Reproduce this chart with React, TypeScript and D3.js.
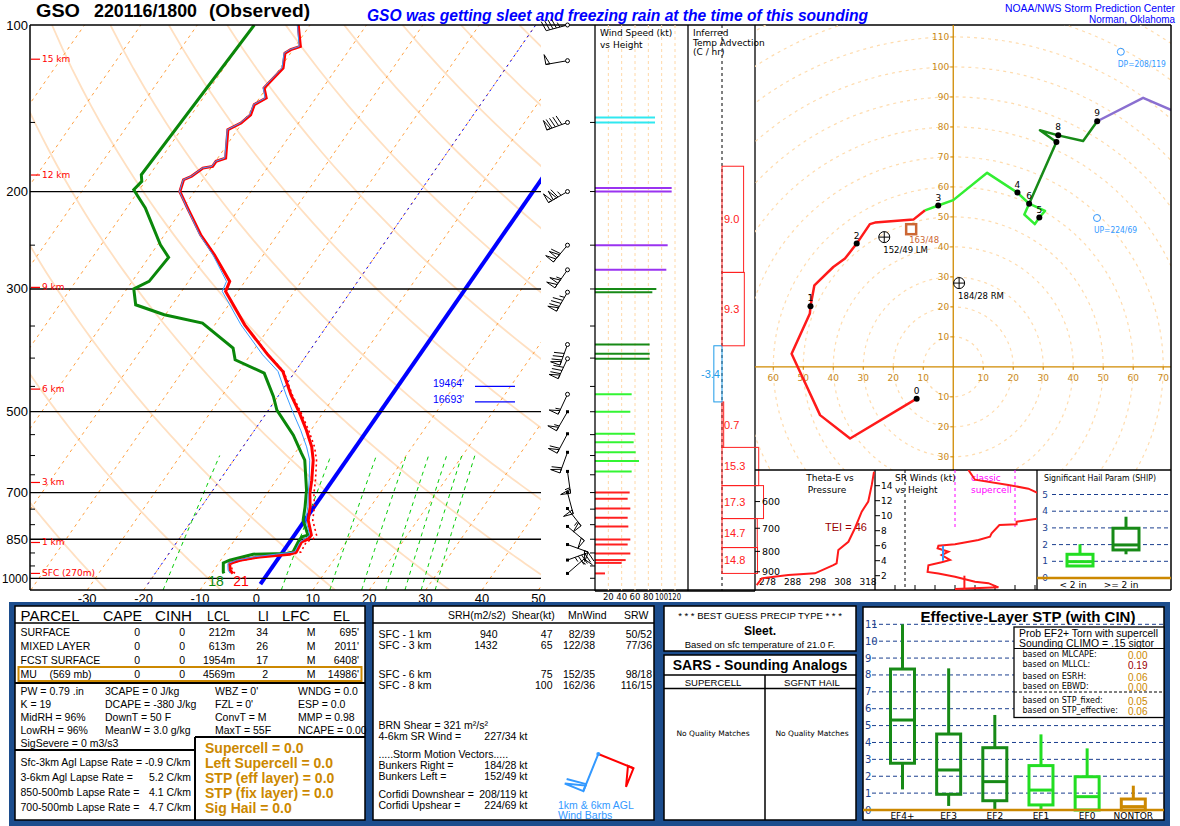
import React from 'react';
import * as d3 from 'd3';

const FONT = "'Liberation Sans', Arial, Helvetica, sans-serif";
const SMALL = "'DejaVu Sans', 'Liberation Sans', sans-serif";

// ---------------- DATA ----------------
// Observed temperature profile (mb, C)
const tempP = [100,109.3,110.8,112.4,119.6,130,135.5,139.3,145.3,150.4,154.6,174,176.4,180.1,181.4,187.7,190.4,200,214.2,239.4,260.2,290.7,303,348.3,394.6,422.8,466,503,539.9,578.8,611.7,664.8,702.7,742.9,785.3,835.8,850,859.6,896.2,904.7,914.9,927.6,940.5,966.9,980];
const tempC = [-62.1,-59.1,-60.4,-61.0,-59.5,-60.4,-58.8,-60.1,-59.5,-60.2,-61.7,-58.6,-59.9,-59.9,-61.4,-62.4,-63.4,-62.6,-59.2,-53.6,-48.7,-42.7,-42.2,-34.7,-26.9,-22.2,-17.9,-14.1,-10.8,-7.8,-5.9,-3.7,-2.4,-0.7,0.6,3.0,2.9,2.1,2.4,1.5,-3.5,-6.6,-8.0,-7.1,-6.2];
// Observed dewpoint profile (mb, C)
const dwptP = [100,186.5,191.7,198.5,214.2,249.6,263,290.7,299.8,320.4,334,345.8,383.7,402.8,425.8,469.2,496.7,551.2,594.9,611.7,693,742.9,785.3,835.8,841.7,859.4,895.9,902,904.6,927.5,938,973.8,980];
const dwptC = [-69.9,-71.5,-70.6,-71.0,-66.7,-59.5,-56.5,-57.0,-58.8,-56.5,-50.2,-42.4,-33.9,-32.1,-25.3,-20.8,-18.5,-12.5,-8.8,-7.4,-3.4,-1.6,-0.3,2.4,1.5,1.5,1.8,0.9,-5.0,-8.4,-9.2,-8.1,-7.8];

// Winds (mb, direction deg, speed kt)
const windP =   [980,938,927,902,869,851,806,777,748,718,700,641,614,592,568,548,500,465,401,393,378,304,300,277,250,200,197,150,147,116,100];
const windDir = [49,55,70,95,110,120,130,135,142,150,165,172,190,200,210,208,210,205,205,204,200,210,210,215,220,240,240,250,252,260,255];
const windSpd = [15,40,46,53,49,53,50,49,53,49,52,55,66,61,58,60,53,55,82,82,82,86,92,107,109,115,115,90,90,50,45];

// Skew-T reference lines
const pressureLevels = [200,300,500,700,850,1000];
const pressureLabels = [100,200,300,500,700,850,1000];
const minorPressures = [150,250,350,400,450,550,600,650,750,800,900,950];
const tempTicks = [-30,-20,-10,0,10,20,30,40,50];
const mixRatios = [1,5,9,13,17,21,25,29];
const heightP = [115.3,186.7,298,455.1,671.2,861.6,980];
const heightLbl = ['15 km','12 km','9 km','6 km','3 km','1 km','SFC (270m)'];
const levelHgtLbl = ["19464'","16693'"];
const levelHgtP = [450,480];

// Hodograph (u, v in kt) and layer index (0:0-3km,1:3-6,2:6-9,3:9-12)
const hodoU = [-12.2,-34.4,-44.4,-53.9,-47.8,-47.6,-46.3,-40,-36.1,-32.2,-27.8,-26.1,-13.3,-9.4,-5,0,11.3,21.4,25.3,30.6,28.7,27.2,23.7,25.3,34.4,28.9,35,43.3,48,63.3,72.8];
const hodoV = [-10.6,-23.9,-16.1,4.4,17.8,20.2,27.2,33.3,36.1,41.1,47.6,48.1,49.1,52.2,53.8,55.6,64.7,58.1,54.4,52,49.8,47.6,50.8,54.4,75,78.9,77.2,75.3,81.9,89.7,85.6];
const hodoLayer = [0,0,0,0,0,0,0,0,0,0,0,0,0,0,1,1,1,1,1,1,1,1,1,1,2,2,2,2,2,3,3];
const hodoMarkLbl = ['0','1','2','3','4','5','6','7','8','9'];
const hodoMarkIdx = [0,5,9,14,17,20,23,24,26,28];

// Storm motions (dir, kt)
const rmDir = 184, rmSpd = 28;
const lmDir = 152, lmSpd = 49;
const mwDir = 163, mwSpd = 48;
const dpDir = 208, dpSpd = 119;
const upDir = 224, upSpd = 69;

// Inferred temperature advection (100 mb layers)
const advBotP = [980,880,780,680,580,480,380,280];
const advTopP = [880,780,680,580,480,380,280,180];
const advVal = [14.8,14.7,17.3,15.3,0.7,-3.4,9.3,9.0];

// Theta-E vs pressure
const thetaP = [505,545,600,636,700,757,794,857,866,908,917,935,972];
const thetaE = [320.4,319.5,318.1,315.5,312.8,310.2,306.2,305.5,304.2,296.9,286.3,275.7,273.7];
const thetaTicks = [278,288,298,308,318];
const thetaPTicks = [600,700,800,900];

// Storm-relative winds vs height (km, kt)
const srH = [16.1,14.8,14.1,13.6,12.9,9.65,9.2,8.85,8.76,7.65,7.2,6.76,6.2,6.0,5.65,5.2,4.76,4.1,3.8,3.4,2.5,2.3,1.87,1.2,1.0,0.45,0.23];
const srS = [46.7,50,66.7,76.7,82.5,82.5,70.8,70.8,62.2,58.3,57.5,51.7,40,31.7,31.3,36.7,33.3,37.5,33.3,26.7,26.3,31.7,40,50,56.7,61.7,40];
const srMeanBot = [0,4];
const srMeanTop = [2,6];
const srMeanSpd = [44.7,34];
const srTicks = [2,4,6,8,10,12,14];

// SHIP box plots
const shipCats = ['< 2 in','>= 2 in'];
const shipLo = [0.72,1.42];
const shipQ1 = [0.72,1.68];
const shipMed = [0.98,1.98];
const shipQ3 = [1.42,2.98];
const shipHi = [2.02,3.67];

// Effective-layer STP box plots
const stpCats = ['EF4+','EF3','EF2','EF1','EF0','NONTOR'];
const stpLo = [1.22,0.24,0,0,0,0];
const stpQ1 = [2.77,0.93,0.55,0.3,0,0];
const stpMed = [5.33,2.37,1.68,1.18,0.79,0.2];
const stpQ3 = [8.35,4.5,3.69,2.63,1.97,0.65];
const stpHi = [11,8.39,5.63,4.48,3.65,1.44];

// Parcel table
const parcelNames = ['SURFACE','MIXED LAYER','FCST SURFACE','MU'];
const parcelCape = ['0','0','0','0'];
const parcelCinh = ['0','0','0','0'];
const parcelLcl = ['212m','613m','1954m','4569m'];
const parcelLi = ['34','26','17','2'];
const parcelLfc = ['M','M','M','M'];
const parcelEl = ["695'","2011'","6408'","14986'"];
const idxCol1 = ['PW = 0.79 .in','K = 19','MidRH = 96%','LowRH = 96%','SigSevere = 0 m3/s3'];
const idxCol2 = ['3CAPE = 0 J/kg','DCAPE = -380 J/kg','DownT = 50 F','MeanW = 3.0 g/kg'];
const idxCol3 = ["WBZ = 0'","FZL = 0'",'ConvT = M','MaxT = 55F'];
const idxCol4 = ['WNDG = 0.0','ESP = 0.0','MMP = 0.98','NCAPE = 0.00'];
const lapseLbl = ['Sfc-3km Agl Lapse Rate =','3-6km Agl Lapse Rate =','850-500mb Lapse Rate =','700-500mb Lapse Rate ='];
const lapseVal = ['-0.9 C/km','5.2 C/km','4.1 C/km','4.7 C/km'];
const orangeLines = ['Supercell = 0.0','Left Supercell = 0.0','STP (eff layer) = 0.0','STP (fix layer) = 0.0','Sig Hail = 0.0'];

// Kinematic table
const kinLayer = ['SFC - 1 km','SFC - 3 km','SFC - 6 km','SFC - 8 km'];
const kinSrh = ['940','1432','',''];
const kinShear = ['47','65','75','100'];
const kinMnWind = ['82/39','122/38','152/35','162/36'];
const kinSrw = ['50/52','77/36','98/18','116/15'];
const barb1kmDir = 112, barb1kmSpd = 52;
const barb6kmDir = 202, barb6kmSpd = 60;

const stpProbLbl = ['based on MLCAPE:','based on MLLCL:','based on ESRH:','based on EBWD:','based on STP_fixed:','based on STP_effective:'];
const stpProbVal = ['0.00','0.19','0.06','0.00','0.05','0.06'];

// ---------------- HELPERS ----------------
const esat = (t: number) => 6.112 * Math.exp(17.67 * t / (t + 243.5));
const mixr = (t: number, p: number) => { const e = esat(t); return 0.622 * e / (p - e); };
const tempFromMix = (w: number, p: number) => { const ww = w / 1000; const e = ww * p / (0.622 + ww); const l = Math.log(e / 6.112); return 243.5 * l / (17.67 - l); };
function wetbulb(t: number, td: number, p: number) {
  const w = mixr(td, p); let lo = td, hi = t;
  for (let i = 0; i < 40; i++) { const m = (lo + hi) / 2; const f = (t - m) * 1005 / 2.5e6 - (mixr(m, p) - w); if (f > 0) lo = m; else hi = m; }
  return (lo + hi) / 2;
}
function interpLog(ps: number[], vs: number[], p: number) {
  if (p <= ps[0]) return vs[0];
  for (let i = 0; i < ps.length - 1; i++) {
    if (p >= ps[i] && p <= ps[i + 1]) { const f = Math.log(p / ps[i]) / Math.log(ps[i + 1] / ps[i]); return vs[i] + f * (vs[i + 1] - vs[i]); }
  }
  return vs[vs.length - 1];
}
function barb(x0: number, y0: number, dir: number, spd: number, L = 22, fl = 10, gap = 3.5, fw = 4) {
  const r = dir * Math.PI / 180;
  const ux = Math.sin(r), uy = -Math.cos(r);
  const px = Math.cos(r), py = Math.sin(r);
  const tx = x0 + L * ux, ty = y0 + L * uy;
  let d = `M${x0},${y0}L${tx},${ty}`;
  let poly = '';
  let s = Math.round(spd / 5) * 5;
  let pos = 0;
  while (s >= 50) {
    const ax = tx - pos * ux, ay = ty - pos * uy;
    const cx = tx - (pos + fw) * ux, cy = ty - (pos + fw) * uy;
    poly += `M${ax},${ay}L${ax + fl * px},${ay + fl * py}L${cx},${cy}Z`;
    pos += fw + 1.5; s -= 50;
  }
  while (s >= 10) {
    const ax = tx - pos * ux, ay = ty - pos * uy;
    d += `M${ax},${ay}L${ax + fl * px + 2.5 * ux},${ay + fl * py + 2.5 * uy}`;
    pos += gap; s -= 10;
  }
  if (s >= 5) {
    if (pos === 0) pos = gap;
    const ax = tx - pos * ux, ay = ty - pos * uy;
    d += `M${ax},${ay}L${ax + fl / 2 * px + 1.25 * ux},${ay + fl / 2 * py + 1.25 * uy}`;
  }
  return { d, poly };
}
const uvOf = (dir: number, spd: number) => { const r = dir * Math.PI / 180; return [-spd * Math.sin(r), -spd * Math.cos(r)]; };

const Txt = ({ x, y, s = 10.5, a = 'start', c = '#000', w = 'normal', f = FONT, st = 'normal', tl, children }: any) => (
  <text x={x} y={y} fontSize={s} textAnchor={a} fill={c} fontWeight={w} fontStyle={st} fontFamily={f}
    dominantBaseline="central" textLength={tl} lengthAdjust={tl ? 'spacingAndGlyphs' : undefined}>{children}</text>
);

export default function App() {
  const SKEW = 0.694;
  const yP = d3.scaleLog().domain([1050, 100]).range([590, 25]);
  const xT0 = d3.scaleLinear().domain([-30, 50]).range([87.2, 538.4]);
  const sx = (t: number, p: number) => xT0(t) + SKEW * (590 - yP(p));
  const line = d3.line<[number, number]>();

  const isotherms = d3.range(-120, 60, 10).map(t => line([[sx(t, 1050), yP(1050)], [sx(t, 100), yP(100)]]));
  const presGrid = d3.range(1050, 95, -10);
  const dryAd = d3.range(-50, 250, 20).map(t0 => line(presGrid.map(p => [sx((t0 + 273.15) * Math.pow(p / 1000, 0.2857) - 273.15, p), yP(p)] as [number, number])));
  const mixLines = mixRatios.map(w => line(d3.range(1050, 595, -10).map(p => [sx(tempFromMix(w, p), p), yP(p)] as [number, number])));

  const tPath = line(tempP.map((p, i) => [sx(tempC[i], p), yP(p)] as [number, number]));
  const tdPath = line(dwptP.map((p, i) => [sx(dwptC[i], p), yP(p)] as [number, number]));
  const tdAtT = tempP.map((p, i) => Math.min(tempC[i], interpLog(dwptP, dwptC, p)));
  const tvPath = line(tempP.map((p, i) => { const w = mixr(tdAtT[i], p); const tv = (tempC[i] + 273.15) * (1 + 0.61 * w) - 273.15; return [sx(tv, p), yP(p)] as [number, number]; }));
  const twPath = line(tempP.map((p, i) => [sx(wetbulb(tempC[i], tdAtT[i], p), p), yP(p)] as [number, number]));

  const ws = d3.scaleLinear().domain([0, 120]).range([595, 675]);
  const spdColor = (p: number) => p > 672 ? '#ff2020' : p > 455 ? '#33f533' : p > 299 ? '#178a17' : p > 186 ? '#9a33f0' : '#30e8f0';
  const ax = d3.scaleLinear().domain([0, 10]).range([722, 746]);

  const barbIdx: number[] = [];
  let lastY = 1e9;
  windP.forEach((p, i) => { const y = yP(p); if (lastY - y >= 11) { barbIdx.push(i); lastY = y; } });

  const hx = d3.scaleLinear().domain([-66.1, 72.6]).range([755, 1171]);
  const hy = d3.scaleLinear().domain([-34.4, 114]).range([470, 25]);
  const hodoColors = ['#ff1a1a', '#33ee33', '#178a17', '#8a6fd0'];
  const hodoSegs = [0, 1, 2, 3].map(L => {
    const pts: [number, number][] = [];
    hodoU.forEach((u, i) => {
      if (hodoLayer[i] === L) {
        if (pts.length === 0 && i > 0) pts.push([hx(hodoU[i - 1]), hy(hodoV[i - 1])]);
        pts.push([hx(u), hy(hodoV[i])]);
      }
    });
    return line(pts);
  });
  const [rmU, rmV] = uvOf(rmDir, rmSpd);
  const [lmU, lmV] = uvOf(lmDir, lmSpd);
  const [mwU, mwV] = uvOf(mwDir, mwSpd);
  const [dpU, dpV] = uvOf(dpDir, dpSpd);
  const [upU, upV] = uvOf(upDir, upSpd);
  const ox = hx(0), oy = hy(0);

  const tx = d3.scaleLinear().domain([278, 318]).range([767.5, 868]);
  const ty = d3.scaleLog().domain([500, 1000]).range([470, 590]);
  const srx = d3.scaleLinear().domain([0, 81]).range([875, 1037]);
  const sry = d3.scaleLinear().domain([0, 16]).range([590.7, 470.7]);
  const shy = d3.scaleLinear().domain([0, 5]).range([578, 494.5]);
  const shx = d3.scalePoint().domain(shipCats).range([1080, 1126]);
  const shipCol = ['#22dd22', '#178a17'];
  const stpY = d3.scaleLinear().domain([0, 11]).range([810, 624.3]);
  const stpX = d3.scalePoint().domain(stpCats).range([902.5, 1133.3]);
  const stpCol = ['#178a17', '#178a17', '#178a17', '#22dd22', '#22dd22', '#cc8800'];

  const navy = '#1c4d8d';
  const orange = '#cc8800';
  const ringColor = '#ffdcae';

  const mini1 = barb(598.3, 754, barb1kmDir, barb1kmSpd, 38, 20, 6, 6);
  const mini6 = barb(598.3, 754, barb6kmDir, barb6kmSpd, 40, 20, 6, 6);

  return (
    <div style={{ position: 'absolute', left: 0, top: 0, width: 1180, height: 826, background: '#fff' }}>
      <svg width={1180} height={826} viewBox="0 0 1180 826" style={{ display: 'block' }}>
        <defs>
          <clipPath id="skewclip"><rect x={30} y={25} width={511} height={565} /></clipPath>
          <clipPath id="hodoclip"><rect x={755} y={25} width={416} height={445} /></clipPath>
          <clipPath id="srclip"><rect x={875} y={470} width={162} height={120} /></clipPath>
          <clipPath id="thclip"><rect x={755} y={470} width={120} height={120} /></clipPath>
        </defs>
        <rect x={0} y={0} width={1180} height={826} fill="#fff" />

        {/* Title */}
        <Txt x={36} y={11} s={17.5} w="bold" tl={44}>GSO</Txt>
        <Txt x={94} y={11} s={17.5} w="bold" tl={103}>220116/1800</Txt>
        <Txt x={209} y={11} s={17.5} w="bold" tl={101}>(Observed)</Txt>
        <Txt x={367} y={15} s={16} w="bold" st="italic" c="#0000ff" tl={501}>GSO was getting sleet and freezing rain at the time of this sounding</Txt>
        <Txt x={1005} y={8} s={10.5} c="#0000ff" tl={170}>NOAA/NWS Storm Prediction Center</Txt>
        <Txt x={1089} y={18.5} s={10.5} c="#0000ff" tl={86}>Norman, Oklahoma</Txt>

        {/* Skew-T background */}
        <g clipPath="url(#skewclip)">
          {dryAd.map((d, i) => <path key={'da' + i} d={d || ''} fill="none" stroke="#ffe0c2" strokeWidth={1.8} />)}
          {isotherms.map((d, i) => <path key={'it' + i} d={d || ''} fill="none" stroke="#ffa040" strokeWidth={1} strokeDasharray="3,4" />)}
          {mixLines.map((d, i) => <path key={'mr' + i} d={d || ''} fill="none" stroke="#00cc00" strokeWidth={1} strokeDasharray="4,4" />)}
          <path d={line([[sx(-20, 1025), yP(1025)], [sx(-20, 100), yP(100)]]) || ''} stroke="#0000ff" strokeWidth={1} strokeDasharray="2,4" fill="none" />
          <path d={line([[sx(0, 1025), yP(1025)], [sx(0, 100), yP(100)]]) || ''} stroke="#0000ff" strokeWidth={4} fill="none" />
          {pressureLevels.map(p => <line key={'pl' + p} x1={30} x2={541} y1={yP(p)} y2={yP(p)} stroke="#000" strokeWidth={1.3} />)}
          <path d={tvPath || ''} fill="none" stroke="#ff0000" strokeWidth={1.6} strokeDasharray="2,3" />
          <path d={tdPath || ''} fill="none" stroke="#0a870a" strokeWidth={3} />
          <path d={tPath || ''} fill="none" stroke="#ff0000" strokeWidth={3} />
          <path d={twPath || ''} fill="none" stroke="#3a9cff" strokeWidth={1} />
        </g>
        <line x1={30} x2={30} y1={25} y2={590} stroke="#000" strokeWidth={1.5} />
        <line x1={30} x2={1171} y1={25} y2={25} stroke="#000" strokeWidth={1.5} />
        <line x1={30} x2={755} y1={590} y2={590} stroke="#000" strokeWidth={1.5} />
        {minorPressures.map(p => <line key={'mp' + p} x1={30} x2={35} y1={yP(p)} y2={yP(p)} stroke="#000" strokeWidth={1} />)}
        {pressureLabels.map(p => <Txt key={'pll' + p} x={28} y={yP(p)} s={13} a="end" tl={p >= 1000 ? 26 : undefined}>{p}</Txt>)}
        {tempTicks.map(t => <Txt key={'tt' + t} x={xT0(t)} y={598} s={13} a="middle">{t}</Txt>)}
        {heightP.map((p, i) => (
          <g key={'hg' + i}>
            <line x1={31} x2={40} y1={yP(p)} y2={yP(p)} stroke="#ff0000" strokeWidth={1.2} />
            <Txt x={42} y={yP(p)} s={9} c="#ff0000" f={SMALL}>{heightLbl[i]}</Txt>
          </g>
        ))}
        {levelHgtP.map((p, i) => (
          <g key={'lh' + i}>
            <Txt x={433} y={yP(p) - 3} s={11} c="#0000ff" tl={31}>{levelHgtLbl[i]}</Txt>
            <line x1={475} x2={515} y1={yP(p)} y2={yP(p)} stroke="#0000ff" strokeWidth={1.3} />
          </g>
        ))}
        <Txt x={216} y={581} s={14} c="#0a870a" a="middle">18</Txt>
        <Txt x={241} y={581} s={14} c="#ff0000" a="middle">21</Txt>

        {/* Wind barbs */}
        {barbIdx.map(i => {
          const b = barb(567.5, yP(windP[i]), windDir[i], windSpd[i]);
          return (
            <g key={'wb' + i}>
              <path d={b.d} stroke="#000" strokeWidth={1} fill="none" />
              {b.poly && <path d={b.poly} stroke="#000" strokeWidth={1} fill="none" />}
              {windP[i] > 480
                ? <rect x={566} y={yP(windP[i]) - 1.5} width={3} height={3} fill="#000" />
                : <circle cx={567.5} cy={yP(windP[i])} r={2} fill="#fff" stroke="#000" strokeWidth={1} />}
            </g>
          );
        })}

        {/* Wind speed panel */}
        {[20, 40, 60, 80, 100, 120].map(k => <line key={'wsg' + k} x1={ws(k)} x2={ws(k)} y1={25} y2={591} stroke="#ffd8a8" strokeWidth={1} strokeDasharray="3,3" />)}
        {windP.map((p, i) => p >= 140 ? <line key={'wsb' + i} x1={595} x2={ws(windSpd[i])} y1={yP(p)} y2={yP(p)} stroke={spdColor(p)} strokeWidth={2} /> : null)}
        {d3.range(150, 1001, 50).map(p => <line key={'wst' + p} x1={590} x2={595} y1={yP(p)} y2={yP(p)} stroke="#000" strokeWidth={1} />)}
        <line x1={595} x2={595} y1={25} y2={591} stroke="#000" strokeWidth={1.3} />
        <line x1={688} x2={688} y1={25} y2={591} stroke="#000" strokeWidth={1.3} />
        <line x1={755} x2={755} y1={25} y2={591} stroke="#000" strokeWidth={1.3} />
        <line x1={595} x2={755} y1={591} y2={591} stroke="#000" strokeWidth={1.3} />
        <Txt x={600} y={33} s={9} f={SMALL}>Wind Speed (kt)</Txt>
        <Txt x={600} y={45} s={9} f={SMALL}>vs Height</Txt>
        {[20, 40, 60, 80].map(k => <Txt key={'wsl' + k} x={ws(k)} y={597} s={8.5} a="middle" f={SMALL}>{k}</Txt>)}
        <Txt x={668} y={597} s={8.5} a="middle" f={SMALL} tl={26}>100120</Txt>

        {/* Temp advection */}
        <line x1={722} x2={722} y1={25} y2={591} stroke="#000" strokeWidth={1} strokeDasharray="3,3" />
        <Txt x={693} y={33} s={9} f={SMALL}>Inferred</Txt>
        <Txt x={693} y={42.5} s={9} f={SMALL}>Temp Advection</Txt>
        <Txt x={693} y={52} s={9} f={SMALL}>(C / hr)</Txt>
        {advVal.map((v, i) => {
          const y1 = yP(advTopP[i]), y2 = yP(advBotP[i]);
          const x1 = ax(Math.min(0, v)), x2 = ax(Math.max(0, v));
          const col = v >= 0 ? '#ff2020' : '#1e9be8';
          return (
            <g key={'adv' + i}>
              <rect x={x1} y={y1} width={Math.max(x2 - x1, 1)} height={y2 - y1} fill="none" stroke={col} strokeWidth={1} />
              {v >= 0
                ? <Txt x={724} y={(y1 + y2) / 2} s={11} c={col}>{v.toFixed(1)}</Txt>
                : <Txt x={720} y={(y1 + y2) / 2} s={11} c={col} a="end">{v.toFixed(1)}</Txt>}
            </g>
          );
        })}

        {/* Hodograph */}
        <g clipPath="url(#hodoclip)">
          {d3.range(10, 150, 10).map(r => <circle key={'hr' + r} cx={ox} cy={oy} r={hx(r) - ox} fill="none" stroke={ringColor} strokeWidth={1.2} strokeDasharray="3,4" />)}
          <line x1={ox} x2={ox} y1={25} y2={470} stroke="#d08a00" strokeWidth={1.3} />
          <line x1={755} x2={1171} y1={oy} y2={oy} stroke="#d08a00" strokeWidth={1.3} />
          {d3.range(-60, 80, 10).filter(k => k !== 0).map(k => (
            <g key={'hux' + k}>
              <line x1={hx(k)} x2={hx(k)} y1={oy} y2={oy + 3} stroke="#d08a00" />
              <Txt x={hx(k)} y={oy + 11} s={9} a="middle" c="#c88a1a" f={SMALL}>{Math.abs(k)}</Txt>
            </g>
          ))}
          {d3.range(-30, 120, 10).filter(k => k !== 0).map(k => (
            <g key={'hvy' + k}>
              <line x1={ox - 3} x2={ox} y1={hy(k)} y2={hy(k)} stroke="#d08a00" />
              <Txt x={ox - 4} y={hy(k)} s={9} a="end" c="#c88a1a" f={SMALL}>{Math.abs(k)}</Txt>
            </g>
          ))}
          {hodoSegs.map((d, i) => <path key={'hs' + i} d={d || ''} fill="none" stroke={hodoColors[i]} strokeWidth={2.5} strokeLinejoin="round" />)}
          {hodoMarkIdx.map((idx, i) => (
            <g key={'hm' + i}>
              <circle cx={hx(hodoU[idx])} cy={hy(hodoV[idx])} r={3} fill="#000" />
              {hodoMarkLbl[i] !== '7' && <Txt x={hx(hodoU[idx])} y={hy(hodoV[idx]) - 8} s={9} a="middle" f={SMALL}>{hodoMarkLbl[i]}</Txt>}
            </g>
          ))}
          <rect x={hx(mwU) - 5} y={hy(mwV) - 5} width={10} height={10} fill="#fff" stroke="#cc6633" strokeWidth={2.5} />
          <Txt x={hx(mwU) - 2} y={hy(mwV) + 11} s={8.5} c="#cc6633" f={SMALL}>{`${mwDir}/${mwSpd}`}</Txt>
          {[[lmU, lmV, `${lmDir}/${lmSpd} LM`], [rmU, rmV, `${rmDir}/${rmSpd} RM`]].map((m: any, i) => (
            <g key={'sm' + i}>
              <circle cx={hx(m[0])} cy={hy(m[1])} r={5.5} fill="none" stroke="#000" strokeWidth={1} />
              <line x1={hx(m[0]) - 5.5} x2={hx(m[0]) + 5.5} y1={hy(m[1])} y2={hy(m[1])} stroke="#000" />
              <line x1={hx(m[0])} x2={hx(m[0])} y1={hy(m[1]) - 5.5} y2={hy(m[1]) + 5.5} stroke="#000" />
              <Txt x={hx(m[0]) - 1} y={hy(m[1]) + 12.5} s={8.5} f={SMALL}>{m[2]}</Txt>
            </g>
          ))}
          <circle cx={hx(dpU)} cy={hy(dpV)} r={3.5} fill="none" stroke="#3399ff" />
          <Txt x={hx(dpU) - 3} y={hy(dpV) + 12} s={9} c="#3399ff" f={SMALL} tl={48}>{`DP=${dpDir}/${dpSpd}`}</Txt>
          <circle cx={hx(upU)} cy={hy(upV)} r={3.5} fill="none" stroke="#3399ff" />
          <Txt x={hx(upU) - 3} y={hy(upV) + 12} s={9} c="#3399ff" f={SMALL} tl={43}>{`UP=${upDir}/${upSpd}`}</Txt>
        </g>
        <line x1={1171} x2={1171} y1={25} y2={590} stroke="#000" strokeWidth={1.5} />
        <line x1={755} x2={1171} y1={470} y2={470} stroke="#000" strokeWidth={1.3} />
        <line x1={755} x2={1171} y1={590} y2={590} stroke="#000" strokeWidth={1.3} />
        <line x1={875} x2={875} y1={470} y2={590} stroke="#000" strokeWidth={1.3} />
        <line x1={1037} x2={1037} y1={470} y2={590} stroke="#000" strokeWidth={1.3} />

        {/* Theta-E panel */}
        <Txt x={830} y={478} s={9} a="middle" f={SMALL}>Theta-E vs</Txt>
        <Txt x={827} y={490} s={9} a="middle" f={SMALL}>Pressure</Txt>
        {thetaPTicks.map(p => (
          <g key={'tp' + p}>
            <line x1={755} x2={760} y1={ty(p)} y2={ty(p)} stroke="#000" />
            <Txt x={762} y={ty(p)} s={9.5} f={SMALL}>{p}</Txt>
          </g>
        ))}
        {thetaTicks.map(t => <Txt key={'tht' + t} x={tx(t)} y={582} s={9} a="middle" f={SMALL}>{t}</Txt>)}
        <Txt x={825} y={527} s={11} c="#990000">TEI = 46</Txt>
        <g clipPath="url(#thclip)">
          <path d={line(thetaP.map((p, i) => [tx(thetaE[i]), ty(p)] as [number, number])) || ''} fill="none" stroke="#ff1a1a" strokeWidth={2} />
        </g>

        {/* SR winds panel */}
        <line x1={srx(15)} x2={srx(15)} y1={470} y2={590} stroke="#000" strokeDasharray="3,3" />
        <line x1={srx(40)} x2={srx(40)} y1={470} y2={sry(8.3)} stroke="#ff00ff" strokeDasharray="3,3" />
        <line x1={srx(70)} x2={srx(70)} y1={470} y2={sry(8.3)} stroke="#ff00ff" strokeDasharray="3,3" />
        <Txt x={971} y={478} s={9} c="#ff00ff" f={SMALL}>classic</Txt>
        <Txt x={971} y={490} s={9} c="#ff00ff" f={SMALL}>supercell</Txt>
        <Txt x={895} y={478} s={9} f={SMALL}>SR Winds (kt)</Txt>
        <Txt x={895} y={490} s={9} f={SMALL}>vs Height</Txt>
        {srTicks.map(h => (
          <g key={'srt' + h}>
            <line x1={875} x2={880} y1={sry(h)} y2={sry(h)} stroke="#000" />
            <Txt x={881} y={sry(h)} s={9} f={SMALL}>{h}</Txt>
          </g>
        ))}
        {d3.range(10, 81, 10).map(k => <line key={'srx' + k} x1={srx(k)} x2={srx(k)} y1={585} y2={590} stroke="#000" />)}
        <g clipPath="url(#srclip)">
          <path d={line(srH.map((h, i) => [srx(srS[i]), sry(h)] as [number, number])) || ''} fill="none" stroke="#ff1a1a" strokeWidth={2} />
          {srMeanSpd.map((s, i) => <line key={'srm' + i} x1={srx(s)} x2={srx(s)} y1={sry(srMeanBot[i])} y2={sry(srMeanTop[i])} stroke={i === 0 ? '#ff1a1a' : '#3399ff'} strokeWidth={2} />)}
        </g>

        {/* SHIP panel */}
        <Txt x={1044} y={478} s={9} f={SMALL} tl={112}>Significant Hail Param (SHIP)</Txt>
        {[1, 2, 3, 4, 5].map(k => <line key={'shg' + k} x1={1052} x2={1170} y1={shy(k)} y2={shy(k)} stroke="#1b3f8f" strokeDasharray="4,3" />)}
        {[0, 1, 2, 3, 4, 5].map(k => <Txt key={'shl' + k} x={1045} y={shy(k)} s={9} a="middle" c="#1b3f8f" f={SMALL}>{k}</Txt>)}
        <line x1={1037} x2={1171} y1={shy(0)} y2={shy(0)} stroke={orange} strokeWidth={2.5} />
        {shipCats.map((c, i) => {
          const cx = shx(c) as number;
          return (
            <g key={'sh' + i} stroke={shipCol[i]} strokeWidth={3} fill="none">
              <line x1={cx} x2={cx} y1={shy(shipHi[i])} y2={shy(shipQ3[i])} />
              <line x1={cx} x2={cx} y1={shy(shipQ1[i])} y2={shy(shipLo[i])} />
              <rect x={cx - 13} y={shy(shipQ3[i])} width={26} height={shy(shipQ1[i]) - shy(shipQ3[i])} />
              <line x1={cx - 13} x2={cx + 13} y1={shy(shipMed[i])} y2={shy(shipMed[i])} />
            </g>
          );
        })}
        <Txt x={1073} y={585} s={9} a="middle" f={SMALL}>{'< 2 in'}</Txt>
        <Txt x={1121} y={585} s={9} a="middle" f={SMALL}>{'>= 2 in'}</Txt>

        {/* ---------------- Bottom panels ---------------- */}
        <rect x={9} y={602} width={1161} height={224} fill={navy} />
        <rect x={15} y={606} width={350} height={214} fill="#fff" stroke="#000" strokeWidth={1.5} />
        <Txt x={20.5} y={615} s={15} tl={59}>PARCEL</Txt>
        <Txt x={103} y={615} s={15} tl={39}>CAPE</Txt>
        <Txt x={155} y={615} s={15} tl={37}>CINH</Txt>
        <Txt x={207} y={615} s={15} tl={23}>LCL</Txt>
        <Txt x={258} y={615} s={15} tl={11}>LI</Txt>
        <Txt x={282} y={615} s={15} tl={28}>LFC</Txt>
        <Txt x={333} y={615} s={15} tl={17}>EL</Txt>
        <line x1={15} x2={365} y1={623} y2={623} stroke="#000" strokeWidth={1.5} />
        {parcelNames.map((n, i) => {
          const y = 632 + i * 14;
          return (
            <g key={'pr' + i}>
              <Txt x={20.5} y={y}>{n}</Txt>
              {i === 3 && <Txt x={49.5} y={y}>(569 mb)</Txt>}
              <Txt x={140} y={y} a="end">{parcelCape[i]}</Txt>
              <Txt x={185} y={y} a="end">{parcelCinh[i]}</Txt>
              <Txt x={235} y={y} a="end">{parcelLcl[i]}</Txt>
              <Txt x={268} y={y} a="end">{parcelLi[i]}</Txt>
              <Txt x={311} y={y} a="middle">{parcelLfc[i]}</Txt>
              <Txt x={359} y={y} a="end">{parcelEl[i]}</Txt>
            </g>
          );
        })}
        <rect x={18.5} y={667} width={343} height={14} fill="none" stroke={orange} strokeWidth={2} />
        <line x1={15} x2={365} y1={683} y2={683} stroke="#000" strokeWidth={2} />
        {idxCol1.map((t, i) => <Txt key={'c1' + i} x={20.5} y={691 + i * 13.1}>{t}</Txt>)}
        {idxCol2.map((t, i) => <Txt key={'c2' + i} x={105} y={691 + i * 13.1}>{t}</Txt>)}
        {idxCol3.map((t, i) => <Txt key={'c3' + i} x={215} y={691 + i * 13.1}>{t}</Txt>)}
        {idxCol4.map((t, i) => <Txt key={'c4' + i} x={298} y={691 + i * 13.1}>{t}</Txt>)}
        <line x1={195} x2={365} y1={737} y2={737} stroke="#000" strokeWidth={2} />
        <line x1={15} x2={195} y1={750} y2={750} stroke="#000" strokeWidth={2} />
        <line x1={195} x2={195} y1={737} y2={820} stroke="#000" strokeWidth={2} />
        {lapseLbl.map((t, i) => (
          <g key={'lr' + i}>
            <Txt x={20.5} y={761.5 + i * 15}>{t}</Txt>
            <Txt x={i === 0 ? 145 : 149} y={761.5 + i * 15}>{lapseVal[i]}</Txt>
          </g>
        ))}
        {orangeLines.map((t, i) => <Txt key={'ol' + i} x={205} y={747.5 + i * 15.2} s={14} w="bold" c={orange}>{t}</Txt>)}

        <rect x={373} y={606} width={281} height={214} fill="#fff" stroke="#000" strokeWidth={1.5} />
        <Txt x={448} y={615} s={10.5}>SRH(m2/s2)</Txt>
        <Txt x={511.5} y={615} s={10.5}>Shear(kt)</Txt>
        <Txt x={568} y={615} s={10.5}>MnWind</Txt>
        <Txt x={624} y={615} s={10.5}>SRW</Txt>
        <line x1={373} x2={654} y1={623} y2={623} stroke="#000" strokeWidth={1.5} />
        {kinLayer.map((l, i) => {
          const y = [634.3, 645, 674, 685][i];
          return (
            <g key={'kl' + i}>
              <Txt x={378.5} y={y}>{l}</Txt>
              <Txt x={497.5} y={y} a="end">{kinSrh[i]}</Txt>
              <Txt x={552.5} y={y} a="end">{kinShear[i]}</Txt>
              <Txt x={595} y={y} a="end">{kinMnWind[i]}</Txt>
              <Txt x={652} y={y} a="end">{kinSrw[i]}</Txt>
            </g>
          );
        })}
        <Txt x={378.5} y={725}>BRN Shear =  321 m²/s²</Txt>
        <Txt x={378.5} y={736}>4-6km SR Wind =</Txt>
        <Txt x={527.5} y={736} a="end">227/34 kt</Txt>
        <Txt x={378.5} y={754}>.....Storm Motion Vectors.....</Txt>
        <Txt x={378.5} y={765}>Bunkers Right =</Txt>
        <Txt x={527.5} y={765} a="end">184/28 kt</Txt>
        <Txt x={378.5} y={776}>Bunkers Left =</Txt>
        <Txt x={527.5} y={776} a="end">152/49 kt</Txt>
        <Txt x={378.5} y={794}>Corfidi Downshear =</Txt>
        <Txt x={527.5} y={794} a="end">208/119 kt</Txt>
        <Txt x={378.5} y={805}>Corfidi Upshear =</Txt>
        <Txt x={527.5} y={805} a="end">224/69 kt</Txt>
        <path d={mini1.d} stroke="#ff0000" strokeWidth={2} fill="none" />
        <path d={mini1.poly} stroke="#ff0000" strokeWidth={2} fill="none" />
        <path d={mini6.d} stroke="#3399ff" strokeWidth={2} fill="none" />
        <path d={mini6.poly} stroke="#3399ff" strokeWidth={2} fill="none" />
        <circle cx={598.3} cy={754} r={2} fill="#3399ff" />
        <Txt x={558} y={805} s={10.5} c="#3399ff">1km &amp; 6km AGL</Txt>
        <Txt x={558} y={815} s={10.5} c="#3399ff">Wind Barbs</Txt>

        <rect x={664} y={606} width={192} height={45} fill="#fff" stroke="#000" strokeWidth={1.5} />
        <Txt x={760} y={615} s={9.5} a="middle">* * * BEST GUESS PRECIP TYPE * * *</Txt>
        <Txt x={760} y={631} s={12} a="middle" w="bold">Sleet.</Txt>
        <Txt x={760} y={644} s={9.5} a="middle">Based on sfc temperature of 21.0 F.</Txt>
        <rect x={664} y={655} width={192} height={165} fill="#fff" stroke="#000" strokeWidth={1.5} />
        <Txt x={760} y={665} s={14} a="middle" w="bold">SARS - Sounding Analogs</Txt>
        <line x1={664} x2={856} y1={675} y2={675} stroke="#000" strokeWidth={1.5} />
        <Txt x={713} y={682} s={9.5} a="middle">SUPERCELL</Txt>
        <Txt x={812} y={682} s={9.5} a="middle">SGFNT HAIL</Txt>
        <line x1={664} x2={856} y1={688.5} y2={688.5} stroke="#000" strokeWidth={1.5} />
        <line x1={765} x2={765} y1={675} y2={820} stroke="#000" strokeWidth={1.5} />
        <Txt x={713} y={733} s={7.5} a="middle" f={SMALL}>No Quality Matches</Txt>
        <Txt x={812} y={733} s={7.5} a="middle" f={SMALL}>No Quality Matches</Txt>

        <rect x={863} y={607} width={301} height={213} fill="#fff" stroke="#000" strokeWidth={1.5} />
        <Txt x={1028} y={616} s={15} a="middle" w="bold">Effective-Layer STP (with CIN)</Txt>
        {d3.range(1, 12).map(k => <line key={'sg' + k} x1={872} x2={1164} y1={stpY(k)} y2={stpY(k)} stroke="#1b3f8f" strokeDasharray="4,3" />)}
        {d3.range(0, 12).map(k => <Txt key={'sl' + k} x={865} y={stpY(k)} s={10} c="#1b3f8f" f={SMALL}>{k}</Txt>)}
        {stpCats.map((c, i) => {
          const cx = stpX(c) as number;
          return (
            <g key={'stp' + i} stroke={stpCol[i]} strokeWidth={3} fill="none">
              <line x1={cx} x2={cx} y1={stpY(stpHi[i])} y2={stpY(stpQ3[i])} />
              <line x1={cx} x2={cx} y1={stpY(stpQ1[i])} y2={stpY(stpLo[i])} />
              <rect x={cx - 12} y={stpY(stpQ3[i])} width={24} height={stpY(stpQ1[i]) - stpY(stpQ3[i])} />
              <line x1={cx - 12} x2={cx + 12} y1={stpY(stpMed[i])} y2={stpY(stpMed[i])} />
            </g>
          );
        })}
        <line x1={863} x2={1164} y1={stpY(0)} y2={stpY(0)} stroke={orange} strokeWidth={2.5} />
        {stpCats.map((c, i) => <Txt key={'sc' + i} x={stpX(c) as number} y={816} s={9} a="middle" f={SMALL}>{c}</Txt>)}
        <rect x={1014} y={627} width={150} height={90.5} fill="#fff" stroke="#000" strokeWidth={1.3} />
        <Txt x={1019} y={632.5} s={10.5} tl={139}>Prob EF2+ Torn with supercell</Txt>
        <Txt x={1019} y={642.5} s={10.5} tl={135}>Sounding CLIMO = .15 sigtor</Txt>
        <line x1={1014} x2={1164} y1={648.5} y2={648.5} stroke="#000" strokeWidth={1} />
        {stpProbLbl.map((t, i) => {
          const y = [654.5, 664.5, 676.5, 686.5, 700.5, 710.5][i];
          return (
            <g key={'sp' + i}>
              <Txt x={1022.5} y={y} s={8} f={SMALL}>{t}</Txt>
              <Txt x={1128} y={y + 1} s={10} c={i === 1 ? '#990000' : orange}>{stpProbVal[i]}</Txt>
            </g>
          );
        })}
        <line x1={1014} x2={1164} y1={692} y2={692} stroke="#000" strokeDasharray="3,2" />
      </svg>
    </div>
  );
}
